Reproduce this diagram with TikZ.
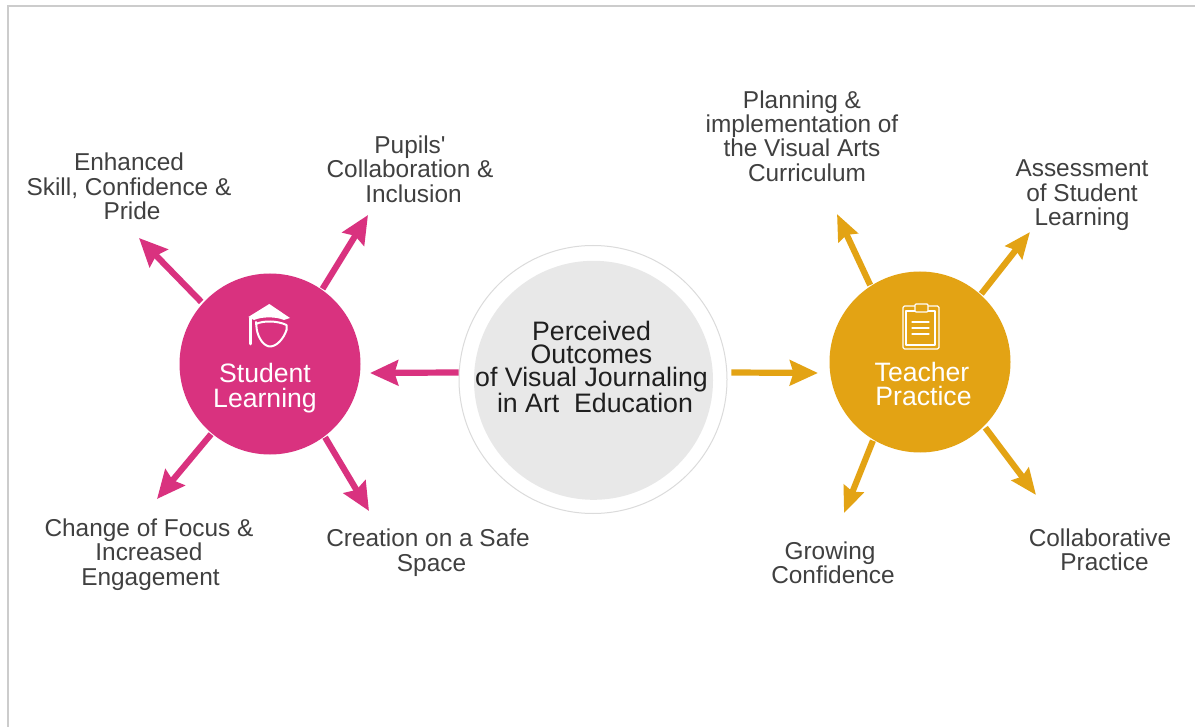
\documentclass[tikz,border=0pt]{standalone}
\usepackage{fontspec}
\setmainfont{Liberation Sans}
\usetikzlibrary{arrows.meta}
\definecolor{pinkc}{HTML}{D9327F}
\definecolor{goldc}{HTML}{E3A314}
\definecolor{txtc}{HTML}{404040}
\tikzset{
 lab/.style={align=center,text=txtc,font=\fontsize{24.4}{24.4}\selectfont,inner sep=0pt},
 hubt/.style={align=center,text=white,font=\fontsize{26.6}{24.8}\selectfont,inner sep=0pt},
 arr/.style={line width=6.2pt,-{Stealth[length=28pt,width=25pt,inset=3.5pt]}},
 pk/.style={arr,draw=pinkc},
 gd/.style={arr,draw=goldc},
 gdd/.style={line width=6.2pt,-{Stealth[length=26pt,width=21pt,inset=3pt]},draw=goldc},
 ic/.style={draw=white,line width=2pt,line join=round,line cap=round}
}
\begin{document}
\begin{tikzpicture}[x=1pt,y=-1pt]
\useasboundingbox (0,0) rectangle (1195,727);
\fill[white] (0,0) rectangle (1195,727);
\draw[draw=black!20,line width=1.5pt] (8,727) -- (8,6) -- (1195,6);
% centre
\node[circle,draw=black!14,line width=1pt,fill=white,minimum size=268pt,inner sep=0pt] (ring) at (593,379.5) {};
\node[circle,fill=black!9,minimum size=239pt,inner sep=0pt] (core) at (593.5,380.3) {};
\node[align=center,text=black!88,font=\fontsize{26.7}{23.3}\selectfont,inner sep=0pt] (ctitle) at (591.5,366.8) {Perceived\\Outcomes\\of Visual Journaling\\\hspace*{7pt}in Art\ \ Education};
% hubs
\node[circle,fill=pinkc,minimum size=181pt,inner sep=0pt] (sl) at (270,364) {};
\node[circle,fill=goldc,minimum size=181pt,inner sep=0pt] (tp) at (920,362) {};
\node[hubt] (slt) at (265,388) {Student\\Learning};
\node[hubt] (tpt) at (922,384) {Teacher\\\hspace*{3pt}Practice};
% student icon
\fill[white] (269.3,304) -- (290,318) -- (284,320) .. controls (276,316.5) and (262,316.5) .. (254,320) -- (248.3,317) -- cycle;
\draw[ic] (256,322) -- (256.7,329) .. controls (258,338) and (264,346.5) .. (270,346.5) .. controls (277,346.5) and (284,338) .. (286.5,330);
\draw[ic] (256,324) .. controls (263,320.5) and (277,320.5) .. (286.5,325) -- (286.5,330);
\draw[ic,line width=2.6pt] (250.5,318) -- (250.5,344);
% teacher icon
\draw[ic,line width=1.2pt,rounded corners=1.5pt] (903,306) rectangle (939,349);
\draw[ic,line width=1.2pt] (906,311) rectangle (935,345);
\draw[ic,line width=1.2pt,rounded corners=1pt,fill=goldc] (915,304) rectangle (928,312);
\draw[ic,line width=1.2pt] (912,322) -- (929,322) (912,328) -- (929,328) (912,334) -- (929,334);
% free ends
\coordinate (sA) at (139,238); \coordinate (sB) at (368,215);
\coordinate (sC) at (157,499); \coordinate (sD) at (369,511);
\coordinate (sE) at (370,373); \coordinate (tE) at (818,373);
\coordinate (tA) at (837,214); \coordinate (tB) at (1030,232);
\coordinate (tC) at (844,513); \coordinate (tD) at (1036,495);
% connectors
\draw[pk,shorten <=2pt] (sl.138) -- (sA);
\draw[pk,shorten <=1pt] (sl.55) -- (sB);
\draw[pk,shorten <=1pt] (sl.230.4) -- (sC);
\draw[pk,shorten <=1pt] (sl.-53.3) -- (sD);
\draw[pk] (ring.177) -- (sE);
\draw[gd,shorten <=4pt] (ring.3) -- (tE);
\draw[gdd,shorten <=1pt] (tp.123.3) -- (tA);
\draw[gdd,shorten <=1pt] (tp.48.2) -- (tB);
\draw[gdd,shorten <=1pt] (tp.239.8) -- (tC);
\draw[gdd,shorten <=2pt] (tp.-45.4) -- (tD);
% labels
\node[lab] (l1) at (129,186.5) {Enhanced\\Skill, Confidence \&\\\hspace*{6pt}Pride};
\node[lab] (l2) at (410,169) {Pupils\textquotesingle\\Collaboration \&\\\hspace*{7pt}Inclusion};
\node[lab] (l3) at (149,554.5) {Change of Focus \&\\Increased\\\hspace*{3pt}Engagement};
\node[lab] (l4) at (428,552.5) {Creation on a Safe\\\hspace*{7pt}Space};
\node[lab] (l5) at (802,136) {Planning \&\\implementation of\\the Visual Arts\\\hspace*{10pt}Curriculum};
\node[lab] (l6) at (1082,195.5) {Assessment\\of Student\\Learning};
\node[lab] (l7) at (833,563) {\hspace*{-6pt}Growing\\Confidence};
\node[lab] (l8) at (1100,550) {Collaborative\\\hspace*{9pt}Practice};
\end{tikzpicture}
\end{document}
